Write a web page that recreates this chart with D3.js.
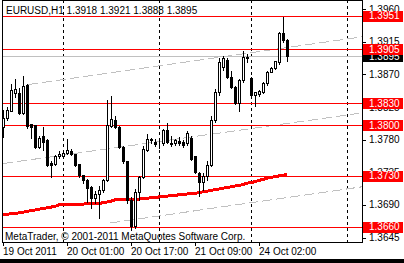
<!DOCTYPE html>
<html>
<head>
<meta charset="utf-8">
<script src="https://cdnjs.cloudflare.com/ajax/libs/d3/7.8.5/d3.min.js"></script>
<style>
html, body { margin: 0; padding: 0; background: #fff; }
svg { display: block; }
text { font-family: 'Liberation Sans', Arial, sans-serif; font-size: 10px; }
</style>
</head>
<body>
<div id="chart"></div>
<script>
// EURUSD H1, 19 Oct 09:00 .. 24 Oct 09:00
var chartTitle = 'EURUSD,H1';
var opens  = [1.3798,1.3810,1.3820,1.3844,1.3844,1.3817,1.3856,1.3802,1.3800,1.3770,1.3785,1.3780,1.3748,1.3747,1.3758,1.3758,1.3761,1.3764,1.3760,1.3746,1.3731,1.3724,1.3715,1.3700,1.3705,1.3711,1.3724,1.3799,1.3807,1.3798,1.3770,1.3750,1.3697,1.3661,1.3708,1.3729,1.3766,1.3780,1.3777,1.3775,1.3775,1.3793,1.3776,1.3775,1.3778,1.3777,1.3775,1.3782,1.3757,1.3734,1.3722,1.3730,1.3745,1.3807,1.3846,1.3880,1.3890,1.3867,1.3853,1.3830,1.3862,1.3894,1.3865,1.3842,1.3843,1.3846,1.3858,1.3874,1.3879,1.3887,1.3927,1.3918];
var highs  = [1.3822,1.3827,1.3858,1.3865,1.3853,1.3869,1.3858,1.3803,1.3800,1.3786,1.3799,1.3782,1.3752,1.3760,1.3766,1.3766,1.3783,1.3769,1.3762,1.3748,1.3732,1.3727,1.3717,1.3711,1.3717,1.3727,1.3836,1.3842,1.3814,1.3800,1.3773,1.3752,1.3702,1.3713,1.3731,1.3773,1.3789,1.3784,1.3782,1.3780,1.3796,1.3804,1.3786,1.3782,1.3785,1.3781,1.3793,1.3786,1.3759,1.3737,1.3735,1.3752,1.3814,1.3851,1.3894,1.3897,1.3894,1.3876,1.3856,1.3865,1.3904,1.3900,1.3868,1.3847,1.3850,1.3861,1.3876,1.3882,1.3890,1.3930,1.3951,1.3921];
var lows   = [1.3784,1.3807,1.3819,1.3839,1.3816,1.3816,1.3796,1.3782,1.3769,1.3769,1.3766,1.3744,1.3729,1.3745,1.3755,1.3757,1.3760,1.3759,1.3744,1.3729,1.3720,1.3694,1.3686,1.3693,1.3672,1.3708,1.3723,1.3798,1.3796,1.3769,1.3748,1.3693,1.3655,1.3658,1.3697,1.3727,1.3764,1.3775,1.3771,1.3769,1.3773,1.3775,1.3771,1.3773,1.3773,1.3770,1.3773,1.3752,1.3734,1.3702,1.3711,1.3724,1.3744,1.3805,1.3842,1.3876,1.3865,1.3851,1.3829,1.3819,1.3860,1.3887,1.3840,1.3826,1.3840,1.3844,1.3856,1.3873,1.3877,1.3884,1.3915,1.3888];
var closes = [1.3810,1.3821,1.3849,1.3850,1.3817,1.3854,1.3799,1.3797,1.3770,1.3783,1.3777,1.3745,1.3745,1.3758,1.3760,1.3762,1.3766,1.3760,1.3745,1.3731,1.3724,1.3713,1.3699,1.3705,1.3710,1.3724,1.3800,1.3809,1.3798,1.3770,1.3750,1.3697,1.3661,1.3708,1.3729,1.3767,1.3781,1.3781,1.3774,1.3776,1.3793,1.3777,1.3774,1.3779,1.3775,1.3773,1.3789,1.3754,1.3736,1.3722,1.3730,1.3745,1.3807,1.3846,1.3887,1.3893,1.3867,1.3853,1.3830,1.3862,1.3894,1.3893,1.3842,1.3846,1.3847,1.3858,1.3874,1.3879,1.3888,1.3927,1.3918,1.3895];
var maValues = [1.3677,1.3677,1.3678,1.3678,1.3679,1.3680,1.3681,1.3682,1.3683,1.3684,1.3685,1.3686,1.3687,1.3688,1.3690,1.3690,1.3690,1.3691,1.3691,1.3691,1.3691,1.3692,1.3692,1.3692,1.3692,1.3693,1.3694,1.3695,1.3697,1.3697,1.3697,1.3698,1.3698,1.3698,1.3698,1.3699,1.3699,1.3700,1.3700,1.3701,1.3702,1.3702,1.3703,1.3703,1.3704,1.3704,1.3705,1.3706,1.3706,1.3707,1.3708,1.3709,1.3710,1.3711,1.3712,1.3713,1.3714,1.3715,1.3716,1.3717,1.3718,1.3720,1.3721,1.3722,1.3724,1.3725,1.3727,1.3728,1.3729,1.3730,1.3731,1.3732];

var priceTicks = [1.3960, 1.3915, 1.3870, 1.3825, 1.3780, 1.3735, 1.3690, 1.3645];
var levelPrices = [1.3951, 1.3905, 1.3830, 1.3800, 1.3730, 1.3660];
var timeLabels = ['19 Oct 2011', '20 Oct 01:00', '20 Oct 17:00', '21 Oct 09:00', '24 Oct 02:00'];
var timeLabelBars = [0, 16, 32, 48, 64];
var separatorBars = [15, 39, 62, 86];
// channel lines: [bar, price] -> [bar, price]
var trendStarts = [[6.25, 1.3856], [0, 1.3747], [26.75, 1.3665]];
var trendEnds = [[89.75, 1.3922], [89.75, 1.3817], [89.75, 1.3715]];
var copyrightText = 'MetaTrader, \u00a9 2001-2011 MetaQuotes Software Corp.';

(function() {
	'use strict';

	var WIDTH = 404, HEIGHT = 263;
	var PLOT_LEFT = 2, PLOT_RIGHT = 362, PLOT_TOP = 0, PLOT_BOTTOM = 242;
	var RED = '#ff0000', GRAY = '#c0c0c0';

	var bars = d3.range(opens.length).map(function(i) {
		return { i: i, o: opens[i], h: highs[i], l: lows[i], c: closes[i] };
	});
	var bid = closes[closes.length - 1];

	var x = d3.scaleLinear().domain([0, 89.75]).range([3, 362]);
	var y = d3.scaleLinear().domain([1.36388, 1.39728]).range([242, 0]);
	function px(v) { return Math.round(x(v)) + 0.5; }
	function py(v) { return Math.round(y(v)) + 0.5; }

	var svg = d3.select('#chart').append('svg')
		.attr('width', WIDTH)
		.attr('height', HEIGHT);

	svg.append('rect').attr('width', WIDTH).attr('height', HEIGHT).attr('fill', '#fff');

	var plot = svg.append('g');
	svg.append('clipPath').attr('id', 'clip')
		.append('rect')
		.attr('x', PLOT_LEFT).attr('y', PLOT_TOP)
		.attr('width', PLOT_RIGHT - PLOT_LEFT).attr('height', PLOT_BOTTOM - PLOT_TOP);
	plot.attr('clip-path', 'url(#clip)');

	// period separators
	plot.selectAll('line.sep').data(separatorBars).enter().append('line')
		.attr('class', 'sep')
		.attr('x1', px).attr('x2', px)
		.attr('y1', PLOT_TOP).attr('y2', PLOT_BOTTOM)
		.attr('stroke', '#000')
		.attr('stroke-dasharray', '3,3')
		.attr('shape-rendering', 'crispEdges');

	// bid line
	plot.append('line')
		.attr('x1', PLOT_LEFT).attr('x2', PLOT_RIGHT)
		.attr('y1', py(bid)).attr('y2', py(bid))
		.attr('stroke', GRAY)
		.attr('shape-rendering', 'crispEdges');

	// channel
	plot.selectAll('line.trend').data(trendStarts).enter().append('line')
		.attr('class', 'trend')
		.attr('x1', function(d) { return x(d[0]); })
		.attr('y1', function(d) { return y(d[1]); })
		.attr('x2', function(d, i) { return x(trendEnds[i][0]); })
		.attr('y2', function(d, i) { return y(trendEnds[i][1]); })
		.attr('stroke', GRAY)
		.attr('stroke-width', 1)
		.attr('stroke-dasharray', '10,4')
		.attr('shape-rendering', 'crispEdges');

	// horizontal levels
	plot.selectAll('line.level').data(levelPrices).enter().append('line')
		.attr('class', 'level')
		.attr('x1', PLOT_LEFT).attr('x2', PLOT_RIGHT)
		.attr('y1', py).attr('y2', py)
		.attr('stroke', RED)
		.attr('shape-rendering', 'crispEdges');

	// moving average
	var maLine = d3.line()
		.x(function(d, i) { return x(i); })
		.y(function(d) { return y(d); });
	plot.append('path')
		.datum(maValues)
		.attr('d', maLine)
		.attr('fill', 'none')
		.attr('stroke', RED)
		.attr('stroke-width', 3)
		.attr('shape-rendering', 'crispEdges');

	// candles
	var candle = plot.selectAll('g.candle').data(bars).enter().append('g').attr('class', 'candle');
	candle.append('line')
		.attr('x1', function(d) { return px(d.i); })
		.attr('x2', function(d) { return px(d.i); })
		.attr('y1', function(d) { return py(d.h); })
		.attr('y2', function(d) { return py(d.l); })
		.attr('stroke', '#000')
		.attr('shape-rendering', 'crispEdges');
	candle.append('rect')
		.attr('x', function(d) { return px(d.i) - 1; })
		.attr('width', 2)
		.attr('y', function(d) { return Math.min(py(d.o), py(d.c)); })
		.attr('height', function(d) { return Math.abs(py(d.o) - py(d.c)); })
		.attr('fill', function(d) { return d.c > d.o ? '#fff' : '#000'; })
		.attr('stroke', '#000')
		.attr('shape-rendering', 'crispEdges');

	// frame
	svg.append('rect')
		.attr('x', PLOT_LEFT + 0.5).attr('y', PLOT_TOP + 0.5)
		.attr('width', PLOT_RIGHT - PLOT_LEFT).attr('height', PLOT_BOTTOM - PLOT_TOP)
		.attr('fill', 'none')
		.attr('stroke', '#000')
		.attr('shape-rendering', 'crispEdges');

	svg.append('text')
		.attr('x', 6).attr('y', 14)
		.text(chartTitle + '  ' + [opens[71], highs[71], lows[71], closes[71]].map(function(v) { return v.toFixed(4); }).join(' '));

	svg.append('text')
		.attr('x', 5).attr('y', 240)
		.text(copyrightText);

	// price axis
	var axisG = svg.append('g');
	axisG.selectAll('line.ptick').data(priceTicks).enter().append('line')
		.attr('x1', PLOT_RIGHT).attr('x2', PLOT_RIGHT + 4)
		.attr('y1', py).attr('y2', py)
		.attr('stroke', '#000')
		.attr('shape-rendering', 'crispEdges');
	axisG.selectAll('text.ptick').data(priceTicks).enter().append('text')
		.attr('x', 369)
		.attr('y', function(d) { return y(d); })
		.attr('dy', '0.35em')
		.text(function(d) { return d.toFixed(4); });

	function priceBox(price, color) {
		var g = axisG.append('g');
		g.append('rect')
			.attr('x', 363).attr('y', Math.round(y(price)) - 5)
			.attr('width', 40).attr('height', 11)
			.attr('fill', color);
		g.append('text')
			.attr('x', 369).attr('y', y(price))
			.attr('dy', '0.35em')
			.attr('fill', '#fff')
			.text(price.toFixed(4));
	}
	priceBox(bid, '#000');
	levelPrices.forEach(function(p) { priceBox(p, RED); });

	// time axis
	svg.selectAll('line.ttick').data(timeLabelBars).enter().append('line')
		.attr('x1', px).attr('x2', px)
		.attr('y1', PLOT_BOTTOM).attr('y2', PLOT_BOTTOM + 4)
		.attr('stroke', '#000')
		.attr('shape-rendering', 'crispEdges');
	svg.selectAll('text.ttick').data(timeLabelBars).enter().append('text')
		.attr('x', function(d) { return Math.round(x(d)); })
		.attr('y', 255)
		.text(function(d, i) { return timeLabels[i]; });

	svg.append('rect')
		.attr('x', 0).attr('y', 259)
		.attr('width', WIDTH).attr('height', HEIGHT - 259)
		.attr('fill', '#000');
}());
</script>
</body>
</html>
